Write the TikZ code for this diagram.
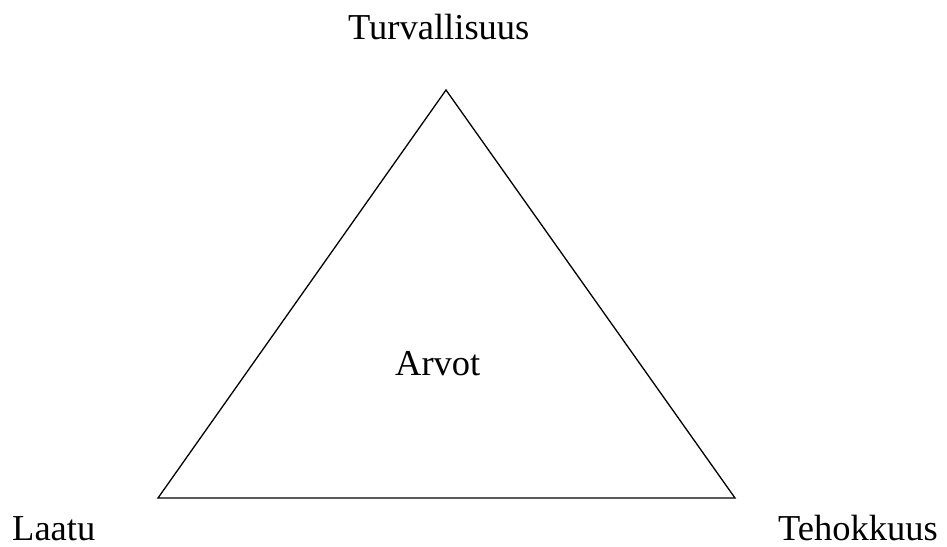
\documentclass[tikz,border=0pt]{standalone}
\usepackage{fontspec}
\setmainfont{Liberation Serif}
\begin{document}
\begin{tikzpicture}[x=1pt,y=-1pt,
  lbl/.style={inner sep=0pt,anchor=base west,text depth=0pt,font=\fontsize{36.5}{44}\selectfont},
  edge/.style={line width=1.3pt,line join=miter}]
\useasboundingbox (0,0) rectangle (947,546);
\coordinate (top) at (446,90);
\coordinate (bl) at (158,498);
\coordinate (br) at (735,498);
\draw[edge] (top) -- (bl) -- (br) -- cycle;
\node[lbl] (turv) at (348,39) {Turvallisuus};
\node[lbl] (arvot) at (395,375) {Arvot};
\node[lbl] (laatu) at (12,540) {Laatu};
\node[lbl] (teho) at (778,540) {Tehokkuus};
\end{tikzpicture}
\end{document}
